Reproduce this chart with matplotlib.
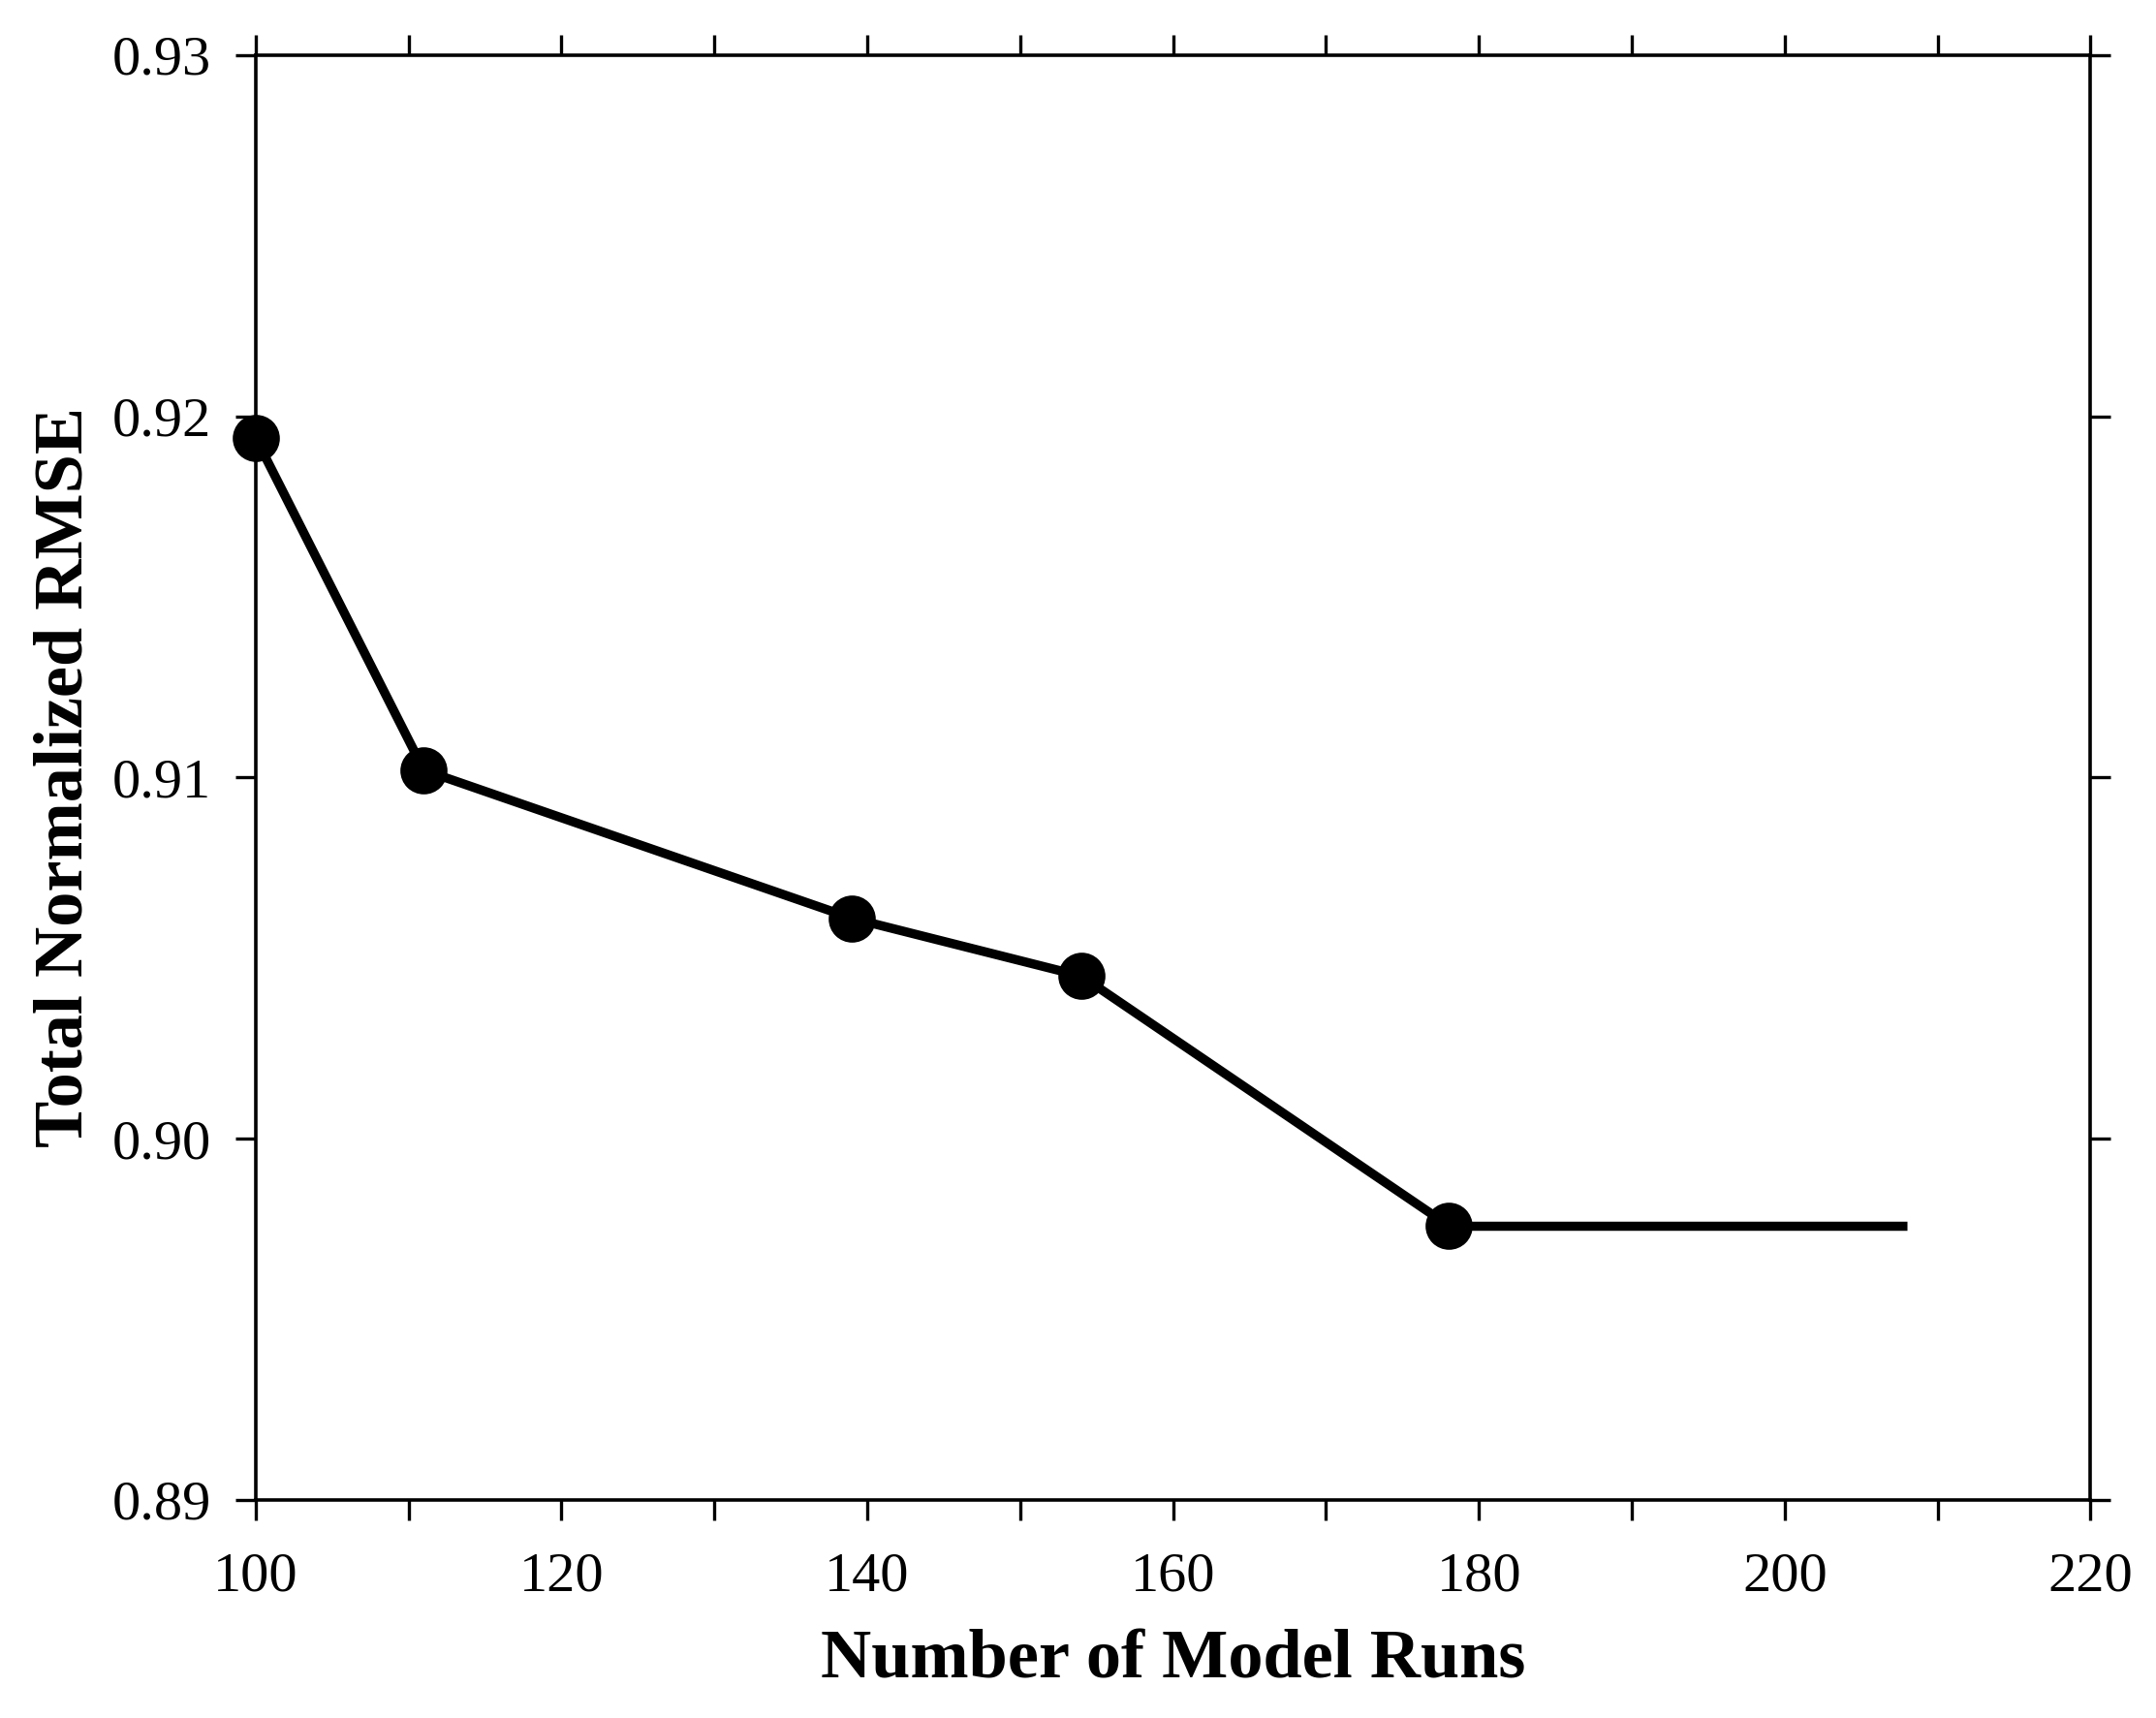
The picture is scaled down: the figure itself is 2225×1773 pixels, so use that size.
import matplotlib.pyplot as plt
from matplotlib.ticker import MultipleLocator

plt.rcParams['font.family'] = ['Liberation Serif', 'DejaVu Serif']

runs = [100, 111, 139, 154, 178]
rmse = [0.9194, 0.9102, 0.9061, 0.9045, 0.8976]
# flat tail after the last run
tail_runs = [178, 208]
tail_rmse = [0.8976, 0.8976]

fig = plt.figure(figsize=(11.125, 8.865), dpi=200)
ax = fig.add_axes([0.1186, 0.127, 0.851, 0.841])

ax.plot(tail_runs, tail_rmse, color='black', lw=3.4, solid_capstyle='butt', zorder=2)
ax.plot(runs, rmse, color='black', lw=3.4, marker='o', markersize=16.5,
        clip_on=False, zorder=3)

ax.set_xlim(100, 220)
ax.set_ylim(0.89, 0.93)
ax.xaxis.set_major_locator(MultipleLocator(20))
ax.xaxis.set_minor_locator(MultipleLocator(10))
ax.yaxis.set_major_locator(MultipleLocator(0.01))
ax.yaxis.set_major_formatter(plt.FormatStrFormatter('%.2f'))

ax.tick_params(which='both', direction='out', length=7.5, width=1.2,
               top=True, right=True, labelsize=21, pad=12)
ax.tick_params(axis='y', pad=9)
for s in ax.spines.values():
    s.set_linewidth(1.3)

ax.set_xlabel('Number of Model Runs', fontsize=26, fontweight='bold', labelpad=10)
ax.set_ylabel('Total Normalized RMSE', fontsize=26, fontweight='bold', labelpad=6)

fig.savefig('out.png', dpi=200)
